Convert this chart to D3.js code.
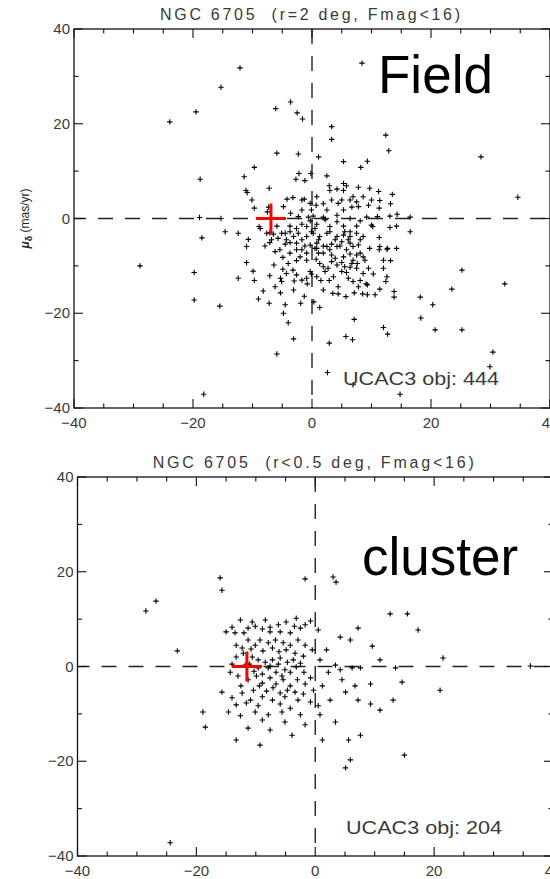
<!DOCTYPE html>
<html><head><meta charset="utf-8">
<script src="https://cdn.jsdelivr.net/npm/d3@7"></script>
<style>body{margin:0;background:#fff}svg{display:block}</style>
</head><body><svg id="c" width="550" height="879"></svg>
<script>
// ---- data (proper motions, mas/yr) ----
const fieldX = [-19.5,-6.1,-3.6,-2.5,-1.6,3.3,3.3,12.4,12.9,-5.9,-2.3,1.1,5.3,9.3,-9.7,8.2,-18.8,-11.4,-2.2,-2.7,-1.2,-0.2,2.5,-11.1,-10.9,-7.2,2.9,4.2,5.3,5.8,7.8,9.7,11.2,13.5,3.0,5.3,-10.1,-9.7,-4.8,-4.2,-3.2,-1.3,-0.3,0.7,1.9,4.4,5.0,6.4,7.5,8.6,10.0,11.4,6.7,7.8,9.5,11.3,13.2,-7.3,-7.5,-3.6,-0.1,-18.9,-15.3,-2.3,-0.6,0.2,1.9,4.2,6.4,9.2,11.0,13.1,14.3,-8.9,-8.7,-5.9,-3.7,-1.7,-0.9,0.8,3.0,5.3,7.5,10.0,10.2,13.1,14.2,-18.5,-14.6,-12.4,-10.7,-7.1,-6.5,-5.1,-4.5,-3.7,-2.3,-0.9,0.2,1.3,2.5,4.2,5.3,6.4,7.5,8.6,11.3,-11.0,-7.9,-7.1,-4.5,-3.7,-2.6,-0.3,0.8,1.9,3.3,4.7,6.4,7.8,11.4,12.7,14.2,-6.2,-5.4,-3.7,-2.6,-1.7,-0.9,0.8,1.9,2.5,3.3,4.2,5.3,6.4,7.5,8.6,9.7,11.3,12.6,-4.9,-2.6,0.7,3.3,5.0,6.7,7.6,12.0,13.2,-11.0,-6.4,-19.8,-9.9,-4.9,-4.3,-3.2,-0.3,-0.1,1.9,2.2,5.0,5.8,6.4,8.6,10.3,12.0,12.6,-12.4,-9.7,-7.1,-5.3,-5.1,-3.0,-0.9,-0.8,1.5,2.9,6.9,8.1,9.1,9.3,12.4,4.4,11.4,13.8,-8.2,-5.3,-1.3,3.5,4.4,5.7,7.1,8.5,9.3,10.6,13.8,-19.8,-15.5,-9.0,-7.2,-4.5,-1.9,0.3,1.3,-4.8,-4.0,7.1,12.0,12.7,-3.1,2.9,5.7,6.8,-5.9,2.6,6.9,-18.2,14.8,-12.1,-15.3,-23.9,8.4,-28.9,28.4,34.6,32.4,30.4,29.9,18.2,20.3,18.3,25.2,20.7,16.5,16.5,23.5,25.2,
  -0.3,0.5,-0.1,1.1,0.5,-1.7,-3.1,-1.2,3.0,3.9,5.0,6.1,6.9,8.1,5.5,6.4,2.2,4.2,8.1,-1.7,2.5,5.3,-2.6,-4.3,-5.7,-6.8,-7.6,-1.7,0.8,3.3,6.9,
  1.1,3.0,3.9,5.8,6.9,8.1,8.9,-2.0,-0.9,1.3,2.7,4.2,5.5,7.5,9.5,-4.0,-2.6,-1.7,0.8,3.6,6.1,7.8,1.9,-3.1,-6.2];
const fieldY = [22.5,23.2,24.6,22.3,21.0,19.4,16.7,17.6,14.3,13.8,13.6,13.0,12.0,12.1,10.8,10.8,8.3,8.8,9.5,8.3,8.0,9.5,9.0,5.9,5.5,6.4,6.9,6.2,7.4,6.9,6.6,6.4,5.7,5.1,5.9,5.9,3.9,2.2,2.5,4.1,4.4,4.1,3.2,2.8,3.1,3.2,3.9,3.9,3.5,4.6,3.9,3.8,2.4,2.5,2.8,2.2,3.1,2.4,1.4,1.1,1.8,0.2,0.0,0.4,0.3,0.5,0.3,0.7,0.0,0.3,0.4,0.5,0.9,-1.7,-2.1,-1.6,-1.6,-1.2,-1.7,-1.2,-1.7,-1.6,-1.6,-1.4,-1.7,-1.9,-1.6,-4.1,-2.8,-3.1,-4.4,-3.0,-3.3,-3.1,-3.1,-2.8,-3.1,-3.8,-3.1,-3.8,-3.1,-3.8,-3.5,-3.8,-3.1,-3.8,-4.0,-5.9,-5.8,-5.1,-5.4,-5.1,-5.2,-5.6,-5.2,-5.8,-5.4,-5.8,-5.2,-5.6,-5.9,-6.3,-6.3,-7.0,-6.6,-7.3,-6.6,-6.6,-7.3,-6.3,-7.3,-5.9,-7.7,-5.9,-8.1,-7.5,-7.7,-8.1,-6.3,-6.6,-6.5,-8.2,-8.9,-8.6,-9.1,-9.3,-9.5,-9.5,-8.8,-8.9,-9.3,-9.8,-11.4,-11.1,-10.7,-11.6,-10.9,-11.2,-11.7,-10.2,-11.2,-11.2,-11.4,-10.3,-11.6,-11.7,-10.5,-12.3,-12.6,-13.1,-12.1,-12.6,-13.3,-13.2,-12.6,-13.8,-13.1,-13.1,-13.3,-13.1,-13.8,-14.0,-13.3,-14.4,-14.9,-15.4,-15.3,-15.7,-16.4,-15.8,-15.9,-16.5,-15.7,-15.9,-16.1,-16.1,-16.6,-17.2,-18.5,-17.0,-17.9,-18.2,-17.9,-17.6,-18.8,-20.0,-22.0,-21.3,-23.0,-24.4,-25.4,-26.3,-24.9,-25.6,-28.6,-32.5,-35.1,-37.1,-37.1,31.8,27.7,20.4,32.8,-10.0,13.0,4.5,-13.8,-28.2,-31.3,-16.6,-18.2,-21.0,-23.5,-23.5,-2.8,0.3,-14.9,-10.9,
  -0.5,-2.1,-2.8,-4.5,-6.3,-4.5,-3.8,-5.8,-2.8,-4.5,-4.9,-4.5,-5.9,-4.5,-2.8,-2.8,-0.3,-0.7,-0.5,1.8,1.8,1.8,-2.1,-4.5,-4.2,-4.5,-3.1,3.9,4.6,3.9,4.6,
  -7.3,-6.6,-8.4,-6.6,-8.8,-7.3,-8.8,-8.1,-8.8,-9.5,-10.5,-9.8,-10.2,-10.5,-10.5,-9.5,-11.9,-13.0,-12.3,-12.3,-12.6,-14.4,-15.1,-15.1,-14.4];
const clusterX = [-14.0,-13.5,-12.6,-11.3,-10.1,-8.9,-7.6,-6.2,-4.9,-3.2,-2.5,-1.7,-0.8,0.5,-11.3,-10.1,-9.3,-7.9,-6.7,-5.4,-4.2,-2.9,-1.7,-0.5,-13.3,-12.1,-10.6,-9.6,-8.4,-7.2,-5.9,-4.7,-3.7,-2.5,0.8,3.4,4.2,6.2,-14.3,-13.0,-11.3,-9.9,-8.9,-7.6,-6.6,-5.4,-4.2,-3.0,-1.7,-0.3,1.2,-15.7,-14.0,-12.3,-10.9,-8.9,-7.2,-5.1,-2.9,-0.8,2.5,5.1,6.7,9.3,-14.6,-12.6,-10.1,-7.9,-5.6,-2.5,0.8,-11.3,-7.6,-3.9,3.4,5.6,7.6,-9.3,5.9,5.1,-7.6,-4.2,4.2,5.9,9.6,10.9,13.5,14.6,9.3,10.9,13.1,-9.6,-7.9,-6.6,-5.1,-11.8,-14.0,-28.5,-26.8,-23.2,-16.0,-15.7,-18.9,-18.5,-24.4,-1.7,3.0,3.5,7.2,12.6,15.5,17.3,21.5,21.0,15.0,36.2,
  -15.0,-12.0,-10.6,-8.4,-5.9,-3.5,-13.3,-12.3,-10.8,-8.8,-7.2,-6.1,-4.9,-3.4,-2.0,-11.1,-10.3,-8.9,-7.6,-6.2,-5.6,-4.2,-3.2,-1.9,-0.8,-12.5,-10.4,-9.4,-8.2,-7.1,-5.9,-4.7,-3.4,-2.0,-13.3,-11.6,-9.6,-5.9,-4.2,0.5,-8.9,-5.1,-1.7,-13.3,1.9,2.2,4.5,7.6,7.2,1.2];
const clusterY = [8.3,7.1,9.8,8.1,8.5,7.9,8.3,8.8,9.4,10.2,8.1,8.8,9.6,7.7,5.6,4.5,5.6,5.0,5.6,5.0,4.5,5.6,4.5,3.5,2.0,2.8,2.0,1.4,0.9,1.4,1.8,0.9,1.4,0.7,1.4,0.3,-0.7,-0.3,-1.2,-2.0,-2.8,-2.0,-3.5,-2.4,-3.7,-2.8,-4.1,-2.8,-3.7,-5.0,-4.1,-5.4,-6.6,-5.6,-7.1,-6.4,-7.1,-6.4,-7.1,-7.5,-7.1,-5.4,-4.1,-3.7,-9.6,-10.4,-9.6,-10.2,-9.6,-10.2,-10.2,-13.0,-13.4,-14.5,-11.7,-15.5,-14.5,-16.6,-19.7,-21.4,7.3,7.1,6.2,5.6,4.3,1.4,-0.3,-3.3,-7.9,-9.2,-7.1,-0.3,-0.3,-1.2,-0.7,0.3,0.5,11.7,13.8,3.3,18.7,16.1,-9.6,-12.8,-37.2,18.5,18.9,17.8,8.1,11.1,11.1,7.7,1.8,-5.0,-18.7,0.1,
  7.3,7.1,9.4,9.8,7.3,8.5,4.5,3.9,3.7,3.3,3.9,3.1,3.5,2.8,2.2,0.5,-1.0,-1.6,0.1,0.5,-2.0,-1.2,-0.1,-1.2,-2.4,-4.1,-5.0,-4.1,-5.2,-4.5,-5.6,-5.0,-5.4,-5.8,-8.1,-7.7,-8.3,-7.9,-8.8,-8.3,-11.3,-11.7,-12.3,-15.5,3.5,-1.2,-2.8,-0.3,-7.1,-15.5];
const meanX = [-6.9, -11.5];
const meanY = [0, 0];
const titles = ["NGC 6705\u00a0\u00a0(r=2 deg, Fmag<16)", "NGC 6705\u00a0\u00a0(r<0.5 deg, Fmag<16)"];
const tags = ["Field", "cluster"];
const counts = ["UCAC3 obj: 444", "UCAC3 obj: 204"];
const tickValues = [-40, -20, 0, 20, 40];
const xMinorStep = 5, yMinorStep = 10;

const svg = d3.select("#c");
const panels = [
  {xs: fieldX, ys: fieldY, box: {l: 74, r: 550, t: 29, b: 408}, tagPos: [378, 93], cntPos: [343, 385], titleW: 300, ylabel: true},
  {xs: clusterX, ys: clusterY, box: {l: 77.5, r: 553, t: 477, b: 856}, tagPos: [362, 575], cntPos: [346, 834], titleW: 321, ylabel: false}
];
const labelFont = "'Liberation Sans', Arial, sans-serif";
const gray = "#3a3a3a";

panels.forEach((p, i) => {
  const B = p.box;
  const x = d3.scaleLinear().domain([-40, 40]).range([B.l, B.r]);
  const y = d3.scaleLinear().domain([-40, 40]).range([B.b, B.t]);
  const g = svg.append("g");

  // dashed zero lines
  g.append("line").attr("x1", x(0)).attr("x2", x(0)).attr("y1", B.t).attr("y2", B.b)
    .attr("stroke", "#222").attr("stroke-width", 1.4).attr("stroke-dasharray", "15,12");
  g.append("line").attr("x1", B.l).attr("x2", B.r).attr("y1", y(0)).attr("y2", y(0))
    .attr("stroke", "#222").attr("stroke-width", 1.4).attr("stroke-dasharray", "15,12")
    .attr("stroke-dashoffset", 3);

  // frame
  g.append("rect").attr("x", B.l).attr("y", B.t).attr("width", B.r - B.l).attr("height", B.b - B.t)
    .attr("fill", "none").attr("stroke", "#111").attr("stroke-width", 1.3);

  // ticks
  const xMinor = d3.range(-40, 40.01, xMinorStep);
  const yMinor = d3.range(-40, 40.01, yMinorStep);
  const tk = g.append("g").attr("stroke", "#111").attr("stroke-width", 1.1);
  xMinor.forEach(v => {
    const L = tickValues.includes(v) ? 9 : 4.5;
    tk.append("line").attr("x1", x(v)).attr("x2", x(v)).attr("y1", B.b).attr("y2", B.b - L);
    tk.append("line").attr("x1", x(v)).attr("x2", x(v)).attr("y1", B.t).attr("y2", B.t + L);
  });
  yMinor.forEach(v => {
    const L = tickValues.includes(v) ? 9 : 4.5;
    tk.append("line").attr("y1", y(v)).attr("y2", y(v)).attr("x1", B.l).attr("x2", B.l + L);
    tk.append("line").attr("y1", y(v)).attr("y2", y(v)).attr("x1", B.r).attr("x2", B.r - L);
  });

  const fmt = v => (v < 0 ? "\u2212" + Math.abs(v) : String(v));
  tickValues.forEach(v => {
    g.append("text").attr("x", x(v)).attr("y", B.b + 20).attr("text-anchor", "middle")
      .attr("font-family", labelFont).attr("font-size", 15).attr("fill", gray).text(fmt(v));
    g.append("text").attr("x", B.l - 4).attr("y", y(v) + 5).attr("text-anchor", "end")
      .attr("font-family", labelFont).attr("font-size", 15).attr("fill", gray).text(fmt(v));
  });

  // title
  g.append("text").attr("x", x(0) - 2).attr("y", B.t - 9).attr("text-anchor", "middle")
    .attr("font-family", labelFont).attr("font-size", 16).attr("fill", gray)
    .attr("textLength", p.titleW).attr("lengthAdjust", "spacing").text(titles[i]);

  // points
  const pts = p.xs.map((v, k) => [v, p.ys[k]]);
  g.append("g").selectAll("path").data(pts).join("path")
    .attr("transform", d => `translate(${x(d[0])},${y(d[1])})`)
    .attr("d", "M-2.7,0H2.7M0,-2.7V2.7")
    .attr("stroke", "#000").attr("stroke-width", 1.1).attr("fill", "none");

  // mean cross
  const cx = x(meanX[i]), cy = y(meanY[i]);
  g.append("path").attr("d", `M${cx - 15},${cy}H${cx + 15}M${cx},${cy - 15}V${cy + 15}`)
    .attr("stroke", "#f00").attr("stroke-width", 3).attr("fill", "none");

  // big tag
  g.append("text").attr("x", p.tagPos[0]).attr("y", p.tagPos[1])
    .attr("font-family", "'Liberation Sans', Arial, sans-serif").attr("font-size", 53)
    .attr("fill", "#000").text(tags[i]);
  // count
  g.append("text").attr("x", p.cntPos[0]).attr("y", p.cntPos[1])
    .attr("font-family", labelFont).attr("font-size", 18).attr("fill", gray)
    .attr("textLength", 156).attr("lengthAdjust", "spacingAndGlyphs").text(counts[i]);

  if (p.ylabel) {
    const t = g.append("text").attr("transform", `translate(29,${y(0)}) rotate(-90)`)
      .attr("text-anchor", "middle").attr("font-family", labelFont).attr("font-size", 12).attr("fill", "#222");
    t.append("tspan").attr("font-weight", "bold").attr("font-style", "italic").text("\u03bc");
    t.append("tspan").attr("font-weight", "bold").attr("font-size", 9).attr("dy", 3).text("\u03b4");
    t.append("tspan").attr("dy", -3).text(" (mas/yr)");
  }
});
</script>
</body></html>
